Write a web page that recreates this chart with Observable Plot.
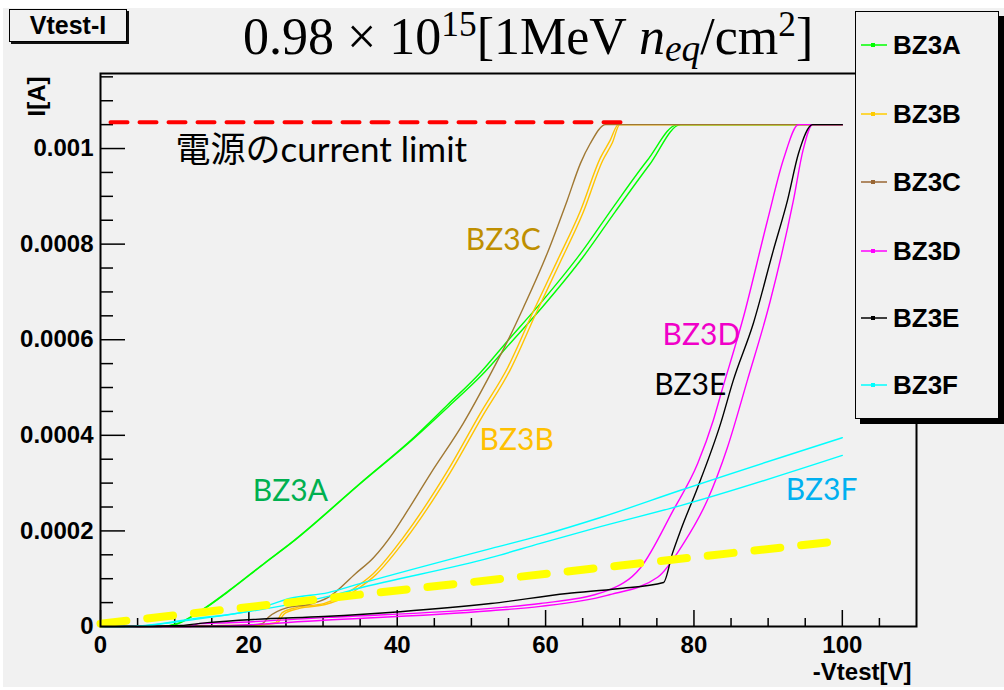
<!DOCTYPE html>
<html><head><meta charset="utf-8">
<script src="https://cdn.jsdelivr.net/npm/d3@7"></script>
<script src="https://cdn.jsdelivr.net/npm/@observablehq/plot@0.6"></script>
<style>
html,body{margin:0;padding:0;background:#fff;}
#wrap{position:relative;width:1004px;height:690px;overflow:hidden;}
#bg{position:absolute;left:3px;top:8px;width:1001px;height:679px;background:#f1f1f1;}
#chart{position:absolute;left:0;top:0;}
#titlebox{position:absolute;left:9px;top:9px;width:116px;height:31px;border:1.5px solid #000;box-shadow:2px 2px 0 #111;background:#f1f1f1;
  font:bold 25px "Liberation Sans",Arial,sans-serif;text-align:center;line-height:31px;}
#bigtitle{position:absolute;left:243px;top:11px;white-space:nowrap;font-family:"Liberation Serif","DejaVu Serif",serif;font-size:52px;line-height:52px;color:#000;}
#bigtitle .sup{font-size:0.68em;position:relative;top:-0.5em;}
#bigtitle .sub{font-size:0.72em;position:relative;top:0.18em;font-style:italic;}
#legend{position:absolute;left:855px;top:11px;width:142px;height:406px;border:1.5px solid #000;box-shadow:5px 5px 0 #000;background:#f1f1f1;}
.lrow{position:absolute;left:0;height:30px;width:140px;}
.lrow svg{position:absolute;left:5px;top:10px;}
.lrow span{position:absolute;left:37px;top:0;font:bold 26px "Liberation Sans",Arial,sans-serif;line-height:30px;color:#000;}
</style></head>
<body>
<div id="wrap">
  <div id="bg"></div>
  <div id="chart"></div>
  <div id="titlebox">Vtest-I</div>
  <div id="bigtitle">0.98 × 10<span class="sup">15</span>[1MeV <i>n</i><span class="sub">eq</span>/cm<span class="sup">2</span>]</div>
  <div id="legend"></div>
</div>
<script>
// ---------- data ----------
const seriesNames  = ["BZ3A", "BZ3B", "BZ3C", "BZ3D", "BZ3E", "BZ3F"];
const lineColors   = ["#00ff00", "#ffc400", "#a07832", "#ff00ff", "#000000", "#00ffff"];
const legendColors = ["#00ff00", "#ffcc00", "#996633", "#ff00ff", "#000000", "#00ffff"];
const labelColors  = ["#00b050", "#ffc000", "#bf8f00", "#f000c8", "#000000", "#00b0f0"];

const bz3a1V = [0, 8.1, 10.3, 13.5, 17.3, 22.2, 25.6, 35.4, 42.2, 46.8, 51.2, 54.9, 59.3, 64.7, 69.1, 73.7, 77.8, 100];
const bz3a1I = [0, 0, 0.000006, 0.000033, 0.000075, 0.000134, 0.000174, 0.000305, 0.000395, 0.000464, 0.000531, 0.000598, 0.000676, 0.00078, 0.000877, 0.000975, 0.00105, 0.00105];
const bz3a2V = [0, 8.1, 10.3, 13.5, 17.3, 22.2, 25.6, 35.4, 42.2, 46.9, 51.4, 55.2, 59.6, 65.0, 69.4, 74.0, 78.2, 100];
const bz3a2I = [0, 0, 0.000005, 0.000032, 0.000074, 0.000133, 0.000173, 0.000304, 0.000393, 0.00046, 0.000526, 0.000592, 0.000669, 0.000772, 0.000868, 0.000966, 0.00105, 0.00105];

const bz3b1V = [0, 20.2, 23.6, 24.5, 26.5, 30.1, 32.7, 34.4, 36.8, 40.8, 46.8, 51.2, 54.9, 58.4, 61.6, 64.7, 67.4, 68.7, 69.8, 100];
const bz3b1I = [0, 0.000002, 0.000008, 0.000029, 0.00004, 0.000048, 0.000065, 0.000082, 0.000111, 0.000186, 0.000326, 0.000446, 0.000542, 0.000661, 0.000766, 0.00087, 0.000981, 0.001017, 0.00105, 0.00105];
const bz3b2V = [0, 20.2, 23.8, 24.8, 26.8, 30.3, 33.0, 34.7, 37.1, 41.1, 47.1, 51.5, 55.2, 58.7, 61.9, 65.0, 67.7, 69.0, 70.0, 100];
const bz3b2I = [0, 0.000002, 0.000007, 0.000027, 0.000038, 0.000046, 0.000062, 0.000079, 0.000108, 0.000182, 0.000321, 0.00044, 0.000536, 0.000655, 0.00076, 0.000864, 0.000975, 0.001012, 0.00105, 0.00105];

const bz3cV = [0, 18.9, 21.8, 22.6, 25.3, 28.0, 30.7, 34.4, 36.8, 39.5, 40.8, 44.5, 48.9, 52.6, 54.9, 57.0, 60.2, 62.9, 64.7, 66.0, 68.1, 100];
const bz3cI = [0, 0.000002, 0.000006, 0.000019, 0.00004, 0.000046, 0.000061, 0.000111, 0.000144, 0.000197, 0.000228, 0.00032, 0.000425, 0.000529, 0.000598, 0.000667, 0.00078, 0.000891, 0.000969, 0.00101, 0.00105, 0.00105];

const bz3d1V = [0, 12.1, 13.2, 17.3, 30.7, 52.6, 59.3, 68.3, 72.8, 77.2, 80.5, 82.6, 83.7, 86.7, 89.9, 92.1, 94.1, 100];
const bz3d1I = [0, 0, 0.000006, 0.000008, 0.000019, 0.000038, 0.000048, 0.000075, 0.000123, 0.000243, 0.000341, 0.000431, 0.00049, 0.000649, 0.000849, 0.000979, 0.00105, 0.00105];
const bz3d2V = [0, 13.5, 30.1, 52.6, 59.3, 68.3, 75.1, 78.6, 81.8, 84.5, 87.2, 90.3, 93.4, 94.7, 96.0, 100];
const bz3d2I = [0, 0, 0.000013, 0.000033, 0.000042, 0.000065, 0.000103, 0.000174, 0.000264, 0.000374, 0.000515, 0.000682, 0.000891, 0.000996, 0.00105, 0.00105];

const bz3eV = [0, 5.4, 10.8, 14.4, 20.9, 30.1, 40.4, 52.6, 62.9, 69.7, 75.9, 77.1, 78.2, 80.5, 83.6, 85.3, 88.0, 90.7, 92.6, 94.1, 96.0, 100];
const bz3eI = [0, 0, 0.000002, 0.000008, 0.000015, 0.000021, 0.000031, 0.000048, 0.000069, 0.000079, 0.000092, 0.000153, 0.000201, 0.000291, 0.000425, 0.000515, 0.000634, 0.000787, 0.000891, 0.00099, 0.00105, 0.00105];

const bz3f1V = [0, 3.8, 12.8, 20.2, 21.8, 25.6, 30.7, 34.6, 52.6, 59.3, 67.4, 78.2, 100];
const bz3f1I = [0, 0, 0.000017, 0.000033, 0.00004, 0.000059, 0.000071, 0.000088, 0.000163, 0.00019, 0.000228, 0.000285, 0.000395];
const bz3f2V = [0, 3.8, 12.8, 21.8, 30.7, 34.6, 52.6, 59.3, 67.4, 78.2, 100];
const bz3f2I = [0, 0, 0.000015, 0.000036, 0.000063, 0.000079, 0.000144, 0.000174, 0.000209, 0.000253, 0.000358];

// guide lines
const trendV = [0, 98];
const trendI = [0.000006, 0.000176];
const limitV = [1.35, 70.1];
const limitI = [0.001055, 0.001055];

// annotation labels (data coords)
const labelText = ["BZ3A", "BZ3B", "BZ3C", "BZ3D", "BZ3E", "BZ3F"];
const labelV = [25.6, 56.1, 54.3, 81.0, 79.5, 97.2];
const labelI = [0.000282, 0.000389, 0.000808, 0.000609, 0.000504, 0.000285];
const limitText = "電源のcurrent limit";
const limitTextV = 10.1, limitTextI = 0.000996;

// axis ticks
const xMajor = [0, 20, 40, 60, 80, 100];
const xMinor = [5, 10, 15, 25, 30, 35, 45, 50, 55, 65, 70, 75, 85, 90, 95, 105];
const yMajor = [0, 0.0002, 0.0004, 0.0006, 0.0008, 0.001];
const yMinor = [0.00005, 0.0001, 0.00015, 0.00025, 0.0003, 0.00035, 0.00045, 0.0005, 0.00055, 0.00065, 0.0007, 0.00075, 0.00085, 0.0009, 0.00095, 0.00105, 0.0011, 0.00115];

// ---------- build table ----------
const runs = [
  ["BZ3A", 1, bz3a1V, bz3a1I], ["BZ3A", 2, bz3a2V, bz3a2I],
  ["BZ3B", 1, bz3b1V, bz3b1I], ["BZ3B", 2, bz3b2V, bz3b2I],
  ["BZ3C", 1, bz3cV, bz3cI],
  ["BZ3D", 1, bz3d1V, bz3d1I], ["BZ3D", 2, bz3d2V, bz3d2I],
  ["BZ3E", 1, bz3eV, bz3eI],
  ["BZ3F", 1, bz3f1V, bz3f1I], ["BZ3F", 2, bz3f2V, bz3f2I]
];
const rows = runs.flatMap(([name, run, V, I]) =>
  V.map((v, i) => ({key: name + "-" + run, V: v, I: I[i], color: lineColors[seriesNames.indexOf(name)]})));
const trend = trendV.map((v, i) => ({V: v, I: trendI[i]}));
const limit = limitV.map((v, i) => ({V: v, I: limitI[i]}));
const labels = labelText.map((t, i) => ({t, V: labelV[i], I: labelI[i], c: labelColors[i]}));

const W = 1004, H = 690, mL = 100, mR = 88, mT = 73, mB = 64;
const fw = W - mL - mR, fh = H - mT - mB;
const axisFont = '"Liberation Sans", Arial, sans-serif';
const annFont = 'Lato, "Noto Sans CJK JP", sans-serif';

const chart = Plot.plot({
  width: W, height: H,
  marginLeft: mL, marginRight: mR, marginTop: mT, marginBottom: mB,
  style: {background: "transparent", color: "#000", overflow: "visible"},
  x: {domain: [0, 110]},
  y: {domain: [0, 0.001157]},
  marks: [
    Plot.ruleY(yMinor, {insetRight: fw - 13, stroke: "#000", strokeWidth: 1.5}),
    Plot.ruleY(yMajor, {insetRight: fw - 25, stroke: "#000", strokeWidth: 1.5}),
    Plot.ruleX(xMinor, {insetTop: fh - 8, stroke: "#000", strokeWidth: 1.5}),
    Plot.ruleX(xMajor, {insetTop: fh - 16, stroke: "#000", strokeWidth: 1.5}),
    Plot.axisX(xMajor, {tickSize: 0, tickPadding: 9, label: null, fontSize: 24, fontWeight: "bold", fontFamily: axisFont, tickFormat: d => String(d)}),
    Plot.axisY(yMajor, {tickSize: 0, tickPadding: 7, label: null, fontSize: 24, fontWeight: "bold", fontFamily: axisFont,
      tickFormat: d => d === 0 ? "0" : d3.format("~g")(d)}),
    Plot.line(rows, {x: "V", y: "I", z: "key", stroke: "color", strokeWidth: 1.4, curve: "monotone-x"}),
    Plot.line(trend, {x: "V", y: "I", stroke: "#ffff00", strokeWidth: 8, strokeDasharray: "26,21"}),
    Plot.line(limit, {x: "V", y: "I", stroke: "#ff0000", strokeWidth: 4, strokeDasharray: "17,12"}),
    Plot.text(labels, {x: "V", y: "I", text: "t", fill: "c", fontSize: 30, fontFamily: annFont}),
    Plot.text([limitText], {x: limitTextV, y: limitTextI, text: d => d, textAnchor: "start", fontSize: 35, fontFamily: annFont, fill: "#000"}),
    Plot.text(["-Vtest[V]"], {frameAnchor: "bottom-right", text: d => d, textAnchor: "end", lineAnchor: "middle", dx: -5, dy: 46, fontSize: 24, fontWeight: "bold", fontFamily: axisFont}),
    Plot.text(["I[A]"], {frameAnchor: "top-left", text: d => d, textAnchor: "end", lineAnchor: "middle", rotate: -90, dx: -63, dy: 3, fontSize: 24, fontWeight: "bold", fontFamily: axisFont}),
    Plot.frame({stroke: "#000", strokeWidth: 2})
  ]
});
document.getElementById("chart").appendChild(chart);

// legend
const legend = document.getElementById("legend");
const rowTops = [18, 87, 155, 224, 291, 358];
seriesNames.forEach((n, i) => {
  const r = document.createElement("div");
  r.className = "lrow";
  r.style.top = rowTops[i] + "px";
  r.innerHTML = `<svg width="28" height="10"><line x1="0" y1="5" x2="26" y2="5" stroke="${legendColors[i]}" stroke-width="1.5"/><rect x="10" y="3" width="4" height="4" fill="${legendColors[i]}"/></svg><span>${n}</span>`;
  legend.appendChild(r);
});
</script>
</body></html>
